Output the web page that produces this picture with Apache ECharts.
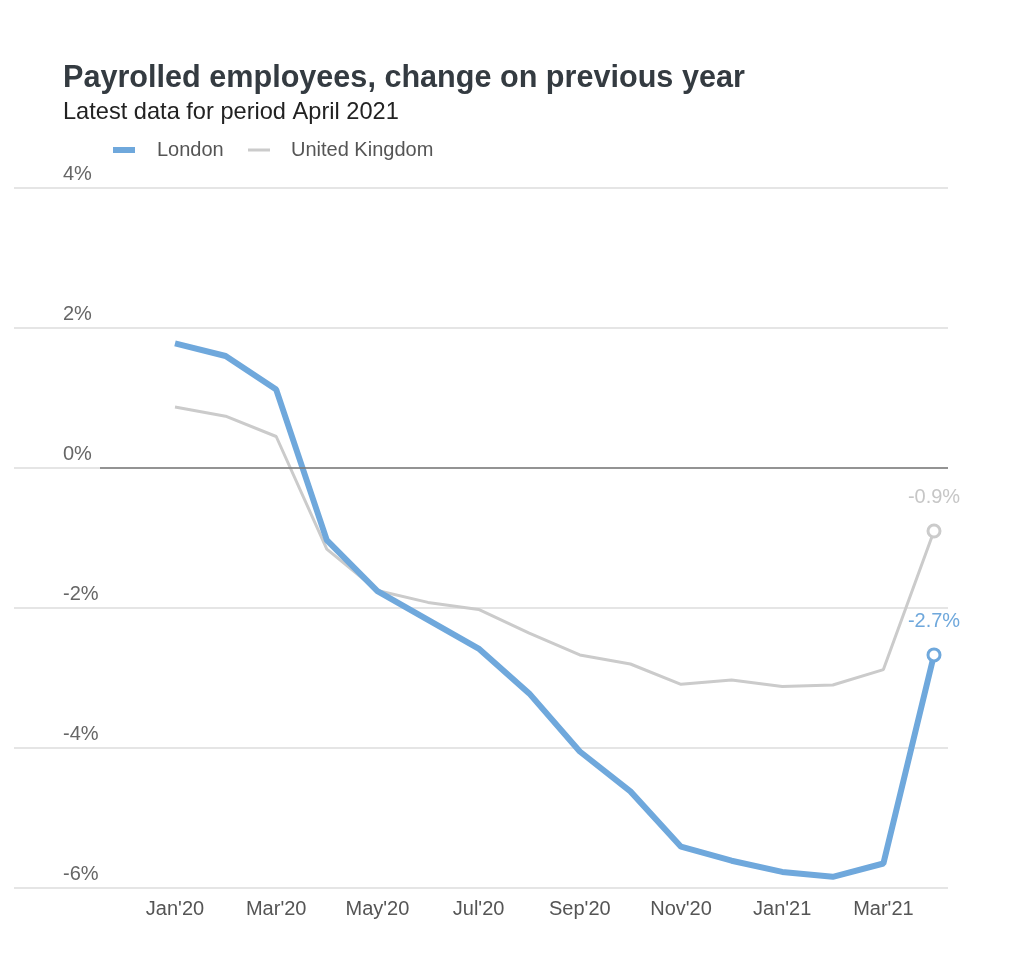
<!DOCTYPE html>
<html>
<head>
<meta charset="utf-8">
<script src="https://cdn.jsdelivr.net/npm/echarts@6/dist/echarts.min.js"></script>
<style>
html,body{margin:0;padding:0;background:#fff;}
#chart{width:1024px;height:957px;}
</style>
</head>
<body>
<div id="chart"></div>
<script>
const months = ["Jan'20","Feb'20","Mar'20","Apr'20","May'20","Jun'20","Jul'20","Aug'20","Sep'20","Oct'20","Nov'20","Dec'20","Jan'21","Feb'21","Mar'21","Apr'21"];
const london = [1.78, 1.60, 1.12, -1.03, -1.76, -2.17, -2.58, -3.22, -4.05, -4.62, -5.41, -5.61, -5.77, -5.84, -5.65, -2.67];
const uk = [0.87, 0.74, 0.45, -1.16, -1.75, -1.92, -2.02, -2.36, -2.67, -2.80, -3.09, -3.03, -3.12, -3.10, -2.88, -0.90];
const labelMonths = [0, 2, 4, 6, 8, 10, 12, 14];

const FONT = '"Liberation Sans", Arial, sans-serif';
const BLUE = '#6fa8dc';
const GREY = '#cbcbcb';

function toPoints(arr, color, labelColor) {
  return arr.map((v, i) => {
    if (i === arr.length - 1) {
      return {
        value: [i, v],
        symbol: 'circle',
        symbolSize: 12,
        itemStyle: { color: '#fff', borderColor: color, borderWidth: 3 },
        label: {
          show: true, position: 'top', distance: 16,
          formatter: (p) => p.value[1].toFixed(1) + '%',
          color: labelColor, fontSize: 20, fontFamily: FONT
        }
      };
    }
    return { value: [i, v], symbol: 'none' };
  });
}

const chart = echarts.init(document.getElementById('chart'), null, { renderer: 'canvas' });
chart.setOption({
  animation: false,
  backgroundColor: '#fff',
  title: [
    { text: 'Payrolled employees, change on previous year', left: 58, top: 58,
      textStyle: { fontFamily: FONT, fontSize: 30.6, fontWeight: 'bold', color: '#343b41' } },
    { text: 'Latest data for period April 2021', left: 58, top: 95,
      textStyle: { fontFamily: FONT, fontSize: 23.6, fontWeight: 'normal', color: '#222' } }
  ],
  legend: [
    { data: [{ name: 'London', icon: 'rect' }], left: 108, top: 135, itemWidth: 22, itemHeight: 6,
      textStyle: { fontFamily: FONT, fontSize: 20, color: '#555', padding: [0, 0, 0, 17] } },
    { data: [{ name: 'United Kingdom', icon: 'rect' }], left: 243, top: 135, itemWidth: 22, itemHeight: 3,
      textStyle: { fontFamily: FONT, fontSize: 20, color: '#555', padding: [0, 0, 0, 16] } }
  ],
  grid: { left: 14, right: 76, top: 188, bottom: 69, containLabel: false },
  xAxis: {
    type: 'value',
    min: (14 - 175) / 50.6,
    max: (948 - 175) / 50.6,
    splitLine: { show: false },
    axisLine: { show: false },
    axisTick: { show: false },
    axisLabel: {
      customValues: labelMonths,
      formatter: (v) => months[Math.round(v)] || '',
      fontFamily: FONT, fontSize: 20, color: '#555', margin: 11
    }
  },
  yAxis: {
    type: 'value',
    min: -6, max: 4, interval: 2,
    axisLine: { show: false },
    axisTick: { show: false },
    splitLine: { lineStyle: { color: '#dcdcdc', width: 1.5 } },
    axisLabel: {
      inside: true, margin: 49,
      verticalAlign: 'bottom', padding: [0, 0, 4, 0],
      formatter: (v) => v + '%',
      fontFamily: FONT, fontSize: 20, color: '#666'
    }
  },
  series: [
    {
      name: 'United Kingdom', type: 'line',
      data: toPoints(uk, GREY, '#c6c6c6'),
      color: GREY,
      showSymbol: true,
      lineStyle: { color: GREY, width: 3 },
      z: 2,
      markLine: {
        silent: true, symbol: 'none', label: { show: false },
        lineStyle: { color: '#777', width: 1.5, type: 'solid' },
        data: [[{ coord: [(100 - 175) / 50.6, 0] }, { coord: [(948 - 175) / 50.6, 0] }]]
      }
    },
    {
      name: 'London', type: 'line',
      data: toPoints(london, BLUE, BLUE),
      color: BLUE,
      showSymbol: true,
      lineStyle: { color: BLUE, width: 6 },
      z: 3
    }
  ]
});
</script>
</body>
</html>
